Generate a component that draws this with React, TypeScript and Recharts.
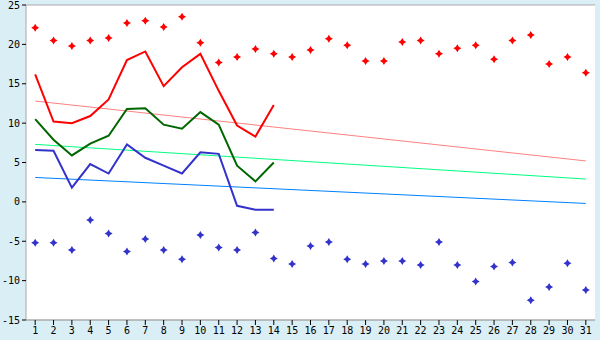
import {
  ComposedChart,
  CartesianGrid,
  XAxis,
  YAxis,
  Line,
} from "recharts";

const days = [
  "1", "2", "3", "4", "5", "6", "7", "8", "9", "10", "11", "12", "13", "14", "15", "16",
  "17", "18", "19", "20", "21", "22", "23", "24", "25", "26", "27", "28", "29", "30", "31",
];

// extreme points per day
const maxPoints = [
  22.1, 20.5, 19.8, 20.5, 20.8, 22.7, 23.0, 22.2, 23.5, 20.2, 17.7, 18.4, 19.4, 18.8, 18.4, 19.3,
  20.7, 19.9, 17.9, 17.9, 20.3, 20.5, 18.8, 19.5, 19.9, 18.1, 20.5, 21.2, 17.5, 18.4, 16.4,
];
const minPoints = [
  -5.2, -5.2, -6.1, -2.3, -4.0, -6.3, -4.7, -6.1, -7.3, -4.2, -5.8, -6.1, -3.9, -7.2, -7.9, -5.6,
  -5.1, -7.3, -7.9, -7.5, -7.5, -8.0, -5.1, -8.0, -10.1, -8.2, -7.7, -12.5, -10.8, -7.8, -11.2,
];

// measured lines (first 14 days)
const highLine = [16.2, 10.2, 10.0, 10.9, 13.0, 18.0, 19.1, 14.7, 17.1, 18.8, 14.1, 9.7, 8.3, 12.3];
const meanLine = [10.5, 7.9, 5.9, 7.4, 8.4, 11.8, 11.9, 9.8, 9.3, 11.4, 9.8, 4.6, 2.6, 5.0];
const lowLine = [6.6, 6.5, 1.8, 4.8, 3.6, 7.3, 5.6, 4.6, 3.6, 6.3, 6.1, -0.5, -1.0, -1.0];

// trend lines: value at first and last day
const highTrend = [12.8, 5.2];
const meanTrend = [7.3, 2.9];
const lowTrend = [3.1, -0.2];

const yTicks = [-15, -10, -5, 0, 5, 10, 15, 20, 25];

const last = days.length - 1;
const data = days.map((day, i) => ({
  day,
  max: maxPoints[i],
  min: minPoints[i],
  high: highLine[i],
  mean: meanLine[i],
  low: lowLine[i],
  highT: i === 0 ? highTrend[0] : i === last ? highTrend[1] : null,
  meanT: i === 0 ? meanTrend[0] : i === last ? meanTrend[1] : null,
  lowT: i === 0 ? lowTrend[0] : i === last ? lowTrend[1] : null,
}));

const marker = (color: string) => (props: any) => {
  const { cx, cy, index } = props;
  if (cx == null || cy == null || props.value == null) return <g key={index} />;
  const d = `M${cx},${cy - 4} L${cx + 1.5},${cy - 1.5} L${cx + 4},${cy} L${cx + 1.5},${cy + 1.5} L${cx},${cy + 4} L${cx - 1.5},${cy + 1.5} L${cx - 4},${cy} L${cx - 1.5},${cy - 1.5} Z`;
  return <path key={index} d={d} fill={color} stroke="none" />;
};

const tickFont = { fontFamily: "DejaVu Sans Mono", fontSize: 10, fill: "#000" };

export default function App() {
  return (
    <div
      style={{
        position: "absolute",
        left: 0,
        top: 0,
        width: 600,
        height: 340,
        background: "#d9eef5",
      }}
    >
      <ComposedChart
        width={600}
        height={340}
        data={data}
        margin={{ top: 5, right: 5, left: 0, bottom: 0 }}
      >
        <CartesianGrid vertical={false} stroke="#aaaaaa" fill="#ffffff" />
        <XAxis
          dataKey="day"
          scale="band"
          height={20}
          interval={0}
          tick={tickFont}
          tickLine={{ stroke: "#000" }}
          tickSize={5}
          axisLine={{ stroke: "#aaaaaa" }}
        />
        <YAxis
          yAxisId="l"
          width={26}
          domain={[-15, 25]}
          ticks={yTicks}
          interval={0}
          tick={tickFont}
          tickLine={{ stroke: "#000" }}
          tickSize={4}
          axisLine={{ stroke: "#aaaaaa" }}
          allowDataOverflow
        />
        <YAxis
          yAxisId="r"
          orientation="right"
          width={0}
          tick={false}
          tickLine={false}
          axisLine={{ stroke: "#aaaaaa" }}
        />
        <Line yAxisId="l" dataKey="highT" stroke="#ff8080" strokeWidth={1} dot={false} connectNulls isAnimationActive={false} />
        <Line yAxisId="l" dataKey="meanT" stroke="#00ff80" strokeWidth={1} dot={false} connectNulls isAnimationActive={false} />
        <Line yAxisId="l" dataKey="lowT" stroke="#0080ff" strokeWidth={1} dot={false} connectNulls isAnimationActive={false} />
        <Line yAxisId="l" dataKey="high" stroke="#ff0000" strokeWidth={2} dot={false} isAnimationActive={false} />
        <Line yAxisId="l" dataKey="mean" stroke="#006600" strokeWidth={2} dot={false} isAnimationActive={false} />
        <Line yAxisId="l" dataKey="low" stroke="#3333cc" strokeWidth={2} dot={false} isAnimationActive={false} />
        <Line yAxisId="l" dataKey="max" stroke="none" dot={marker("#ff0000")} activeDot={false} isAnimationActive={false} />
        <Line yAxisId="l" dataKey="min" stroke="none" dot={marker("#3333cc")} activeDot={false} isAnimationActive={false} />
      </ComposedChart>
    </div>
  );
}
